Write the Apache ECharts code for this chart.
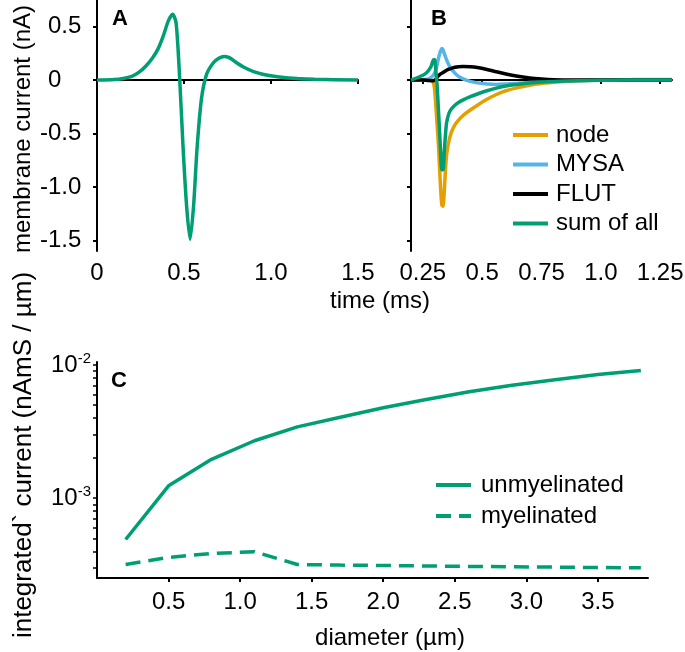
<!DOCTYPE html>
<html>
<head>
<meta charset="utf-8">
<script src="https://cdn.jsdelivr.net/npm/echarts@6/dist/echarts.min.js"></script>
<style>
html, body { margin: 0; padding: 0; background: #fff; }
#main { width: 685px; height: 652px; }
</style>
</head>
<body>
<div id="main"></div>
<script>
// panel A: total membrane current
var timeA = [0, 0.1, 0.15, 0.2, 0.24, 0.28, 0.32, 0.35, 0.38, 0.41, 0.435, 0.455, 0.475, 0.495, 0.515, 0.535, 0.555, 0.575, 0.6, 0.63, 0.67, 0.7, 0.73, 0.76, 0.8, 0.85, 0.9, 0.98, 1.1, 1.25, 1.5]
var currentA = [0, 0.005, 0.015, 0.035, 0.072, 0.13, 0.21, 0.29, 0.41, 0.555, 0.617, 0.53, 0.02, -0.64, -1.18, -1.49, -1.18, -0.64, -0.18, 0.056, 0.165, 0.205, 0.222, 0.21, 0.165, 0.115, 0.08, 0.045, 0.02, 0.008, 0]

// panel B: contributions per compartment
var timeB = [0.2, 0.25, 0.27, 0.285, 0.295, 0.3, 0.305, 0.31, 0.315, 0.32, 0.325, 0.33, 0.335, 0.34, 0.345, 0.35, 0.36, 0.37, 0.385, 0.4, 0.42, 0.45, 0.48, 0.52, 0.56, 0.6, 0.65, 0.7, 0.75, 0.8, 0.9, 1.0, 1.1, 1.2, 1.3]
var nodeB = [0, 0, 0, 0, -0.03, -0.1, -0.25, -0.42, -0.58, -0.8, -1.02, -1.17, -1.18, -1.05, -0.85, -0.7, -0.57, -0.49, -0.42, -0.375, -0.33, -0.28, -0.235, -0.18, -0.135, -0.1, -0.07, -0.048, -0.032, -0.02, -0.007, 0, 0.004, 0.005, 0.005]
var mysaB = [0, 0.003, 0.008, 0.025, 0.05, 0.07, 0.1, 0.14, 0.196, 0.24, 0.275, 0.295, 0.285, 0.25, 0.22, 0.19, 0.14, 0.105, 0.065, 0.035, 0.012, -0.012, -0.026, -0.036, -0.04, -0.037, -0.03, -0.022, -0.016, -0.01, -0.004, -0.001, 0, 0, 0]
var flutB = [0, 0, -0.003, -0.005, -0.005, 0, 0.01, 0.025, 0.04, 0.05, 0.058, 0.065, 0.072, 0.078, 0.085, 0.092, 0.102, 0.11, 0.12, 0.126, 0.128, 0.126, 0.118, 0.1, 0.078, 0.058, 0.037, 0.02, 0.01, 0.004, 0.001, 0, 0, 0, 0]
var sumB = [0, 0.045, 0.08, 0.13, 0.19, 0.19, 0.08, -0.05, -0.25, -0.46, -0.68, -0.84, -0.84, -0.68, -0.52, -0.4, -0.31, -0.27, -0.235, -0.21, -0.185, -0.155, -0.13, -0.1, -0.075, -0.055, -0.04, -0.027, -0.018, -0.012, -0.005, -0.002, 0, 0, 0]

// panel C: integrated current vs diameter
var diameters = [0.2, 0.5, 0.8, 1.1, 1.4, 1.7, 2.0, 2.3, 2.6, 2.9, 3.2, 3.5, 3.8]
var unmyelinated = [4.9e-4, 1.24e-3, 1.96e-3, 2.7e-3, 3.43e-3, 4.05e-3, 4.78e-3, 5.5e-3, 6.3e-3, 7.05e-3, 7.75e-3, 8.5e-3, 9.1e-3]
var myelinated = [3.18e-4, 3.6e-4, 3.85e-4, 3.97e-4, 3.18e-4, 3.15e-4, 3.13e-4, 3.1e-4, 3.08e-4, 3.06e-4, 3.04e-4, 3.02e-4, 3.01e-4]

// tick positions
var ticksXA = [0, 0.5, 1, 1.5]
var ticksXB = [0.25, 0.5, 0.75, 1, 1.25]
var ticksY = [-1.5, -1, -0.5, 0, 0.5]
var ticksXC = [0.5, 1, 1.5, 2, 2.5, 3, 3.5]
var decadesC = [0.001, 0.01]
var minorC = [3e-4, 4e-4, 5e-4, 6e-4, 7e-4, 8e-4, 9e-4, 1e-3, 2e-3, 3e-3, 4e-3, 5e-3, 6e-3, 7e-3, 8e-3, 9e-3, 1e-2]

var FONT = 'Liberation Sans, Arial, Helvetica, sans-serif'
var GREEN = '#009E73', ORANGE = '#E69F00', BLUE = '#56B4E9'
var DASH_ICON = 'path://M0,0h15v4h-15z M23,0h12v4h-12z'

function zip (xs, ys) {
  return xs.map(function (x, i) { return [x, ys[i]] })
}
function fmt1 (v) {
  return v === 0 ? '0' : v.toFixed(1)
}

var axisLine = { lineStyle: { color: '#000', width: 2 } }
var tickLine = { color: '#000', width: 2 }
var labelBase = { color: '#000', fontSize: 24, fontFamily: FONT }

function lineSeries (name, data, color, xi, dash) {
  var s = {
    name: name,
    type: 'line',
    xAxisIndex: xi,
    yAxisIndex: xi,
    data: data,
    symbol: 'none',
    smooth: 0.25,
    lineStyle: { color: color, width: 3.5 },
    itemStyle: { color: color },
    animation: false
  }
  if (dash) s.lineStyle.type = dash
  return s
}

var chart = echarts.init(document.getElementById('main'))
chart.setOption({
  backgroundColor: '#fff',
  animation: false,
  grid: [
    { left: 97, top: 0, width: 261, height: 251, outerBoundsMode: 'none' },
    { left: 411, top: 0, width: 261, height: 251, outerBoundsMode: 'none' },
    { left: 97, top: 362, width: 551, height: 216, outerBoundsMode: 'none' }
  ],
  xAxis: [
    {
      gridIndex: 0, type: 'value', min: 0, max: 1.5,
      axisLine: axisLine,
      axisTick: { show: true, length: 4, customValues: ticksXA, lineStyle: tickLine },
      axisLabel: Object.assign({ customValues: ticksXA, margin: 10, formatter: fmt1 }, labelBase),
      splitLine: { show: false }
    },
    {
      gridIndex: 1, type: 'value', min: 0.2, max: 1.3,
      axisLine: axisLine,
      axisTick: { show: true, length: 4, customValues: ticksXB, lineStyle: tickLine },
      axisLabel: Object.assign({
        customValues: ticksXB, margin: 10,
        formatter: function (v) { return Math.round(v * 100) % 50 === 0 ? v.toFixed(1) : String(v) }
      }, labelBase),
      splitLine: { show: false }
    },
    {
      gridIndex: 2, type: 'value', min: 0, max: 3.85,
      axisLine: axisLine,
      axisTick: { show: true, length: 4, customValues: ticksXC, lineStyle: tickLine },
      axisLabel: Object.assign({ customValues: ticksXC, margin: 12, formatter: fmt1 }, labelBase),
      splitLine: { show: false }
    }
  ],
  yAxis: [
    {
      gridIndex: 0, type: 'value', min: -1.6, max: 0.75,
      axisLine: axisLine,
      axisTick: { show: true, length: 4, customValues: ticksY, lineStyle: tickLine },
      axisLabel: Object.assign({
        customValues: ticksY, margin: 57, align: 'left',
        formatter: function (v) { return v >= 0 ? '{p|' + fmt1(v) + '}' : fmt1(v) },
        rich: { p: { padding: [0, 0, 0, 8], fontSize: 24, fontFamily: FONT, color: '#000' } }
      }, labelBase),
      splitLine: { show: false }
    },
    {
      gridIndex: 1, type: 'value', min: -1.6, max: 0.75,
      axisLine: axisLine,
      axisTick: { show: true, length: 4, customValues: ticksY, lineStyle: tickLine },
      axisLabel: { show: false },
      splitLine: { show: false }
    },
    {
      gridIndex: 2, type: 'log', logBase: 10, min: 2.52e-4, max: 0.01053,
      axisLine: axisLine,
      axisTick: { show: true, length: 4, customValues: minorC, lineStyle: { color: '#000', width: 1.5 } },
      axisLabel: Object.assign({
        customValues: decadesC, margin: 6,
        formatter: function (v) { return '{b|10}{s|' + Math.round(Math.log10(v)) + '}' },
        rich: {
          b: { fontSize: 24, fontFamily: FONT, color: '#000' },
          s: { fontSize: 15, fontFamily: FONT, color: '#000', padding: [0, 0, 12, 0] }
        }
      }, labelBase),
      splitLine: { show: false }
    }
  ],
  legend: [
    {
      data: [
        { name: 'node', icon: 'rect' },
        { name: 'MYSA', icon: 'rect' },
        { name: 'FLUT', icon: 'rect' },
        { name: 'sum of all', icon: 'rect' }
      ],
      orient: 'vertical', left: 513, top: 123, padding: 0,
      itemWidth: 35, itemHeight: 4, itemGap: 5.5,
      textStyle: { color: '#000', fontSize: 24, fontFamily: FONT, padding: [0, 0, 0, 3] }
    },
    {
      data: [
        { name: 'unmyelinated', icon: 'rect' },
        { name: 'myelinated', icon: DASH_ICON }
      ],
      orient: 'vertical', left: 436, top: 473, padding: 0,
      itemWidth: 35, itemHeight: 4, itemGap: 7,
      textStyle: { color: '#000', fontSize: 24, fontFamily: FONT, padding: [0, 0, 0, 5] }
    }
  ],
  graphic: [
    { type: 'text', left: 112, top: 8, style: { text: 'A', fontSize: 22, fontWeight: 'bold', fontFamily: FONT, fill: '#000' } },
    { type: 'text', left: 431, top: 8, style: { text: 'B', fontSize: 22, fontWeight: 'bold', fontFamily: FONT, fill: '#000' } },
    { type: 'text', left: 111, top: 370, style: { text: 'C', fontSize: 22, fontWeight: 'bold', fontFamily: FONT, fill: '#000' } },
    { type: 'text', x: 380, y: 301, style: { text: 'time (ms)', fontSize: 24, fontFamily: FONT, fill: '#000', align: 'center', verticalAlign: 'middle' } },
    { type: 'text', x: 390, y: 638, style: { text: 'diameter (µm)', fontSize: 24, fontFamily: FONT, fill: '#000', align: 'center', verticalAlign: 'middle' } },
    { type: 'text', x: 23, y: 129, rotation: Math.PI / 2, style: { text: 'membrane current (nA)', fontSize: 24, fontFamily: FONT, fill: '#000', align: 'center', verticalAlign: 'middle' } },
    { type: 'text', x: 24, y: 455, rotation: Math.PI / 2, style: { text: 'integrated` current (nAmS / µm)', fontSize: 26, fontFamily: FONT, fill: '#000', align: 'center', verticalAlign: 'middle' } }
  ],
  series: [
    lineSeries('total', zip(timeA, currentA), GREEN, 0),
    lineSeries('node', zip(timeB, nodeB), ORANGE, 1),
    lineSeries('MYSA', zip(timeB, mysaB), BLUE, 1),
    lineSeries('FLUT', zip(timeB, flutB), '#000', 1),
    lineSeries('sum of all', zip(timeB, sumB), GREEN, 1),
    Object.assign(lineSeries('unmyelinated', zip(diameters, unmyelinated), GREEN, 2), { smooth: false }),
    Object.assign(lineSeries('myelinated', zip(diameters, myelinated), GREEN, 2, [15, 8]), { smooth: false })
  ]
})
</script>
</body>
</html>
